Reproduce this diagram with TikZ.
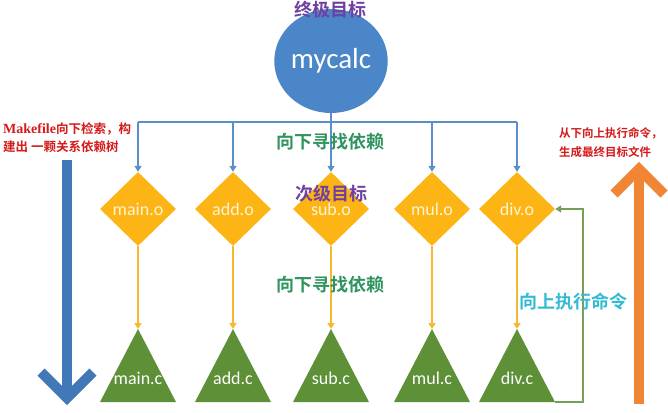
\documentclass[tikz,border=0pt]{standalone}
\usepackage{fontspec}
\setmainfont{Carlito}
\newfontfamily\cjk{Noto Sans CJK SC}[BoldFont={Noto Sans CJK SC Bold}]
\newfontfamily\serifb{Liberation Serif}
\usetikzlibrary{shapes.geometric,arrows.meta}
\definecolor{cblue}{HTML}{4A86C8}
\definecolor{lblue}{HTML}{5B8FCC}
\definecolor{cyellow}{HTML}{FDB515}
\definecolor{lyellow}{HTML}{F5BA30}
\definecolor{cgreen}{HTML}{5E9038}
\definecolor{fgreen}{HTML}{76A05A}
\definecolor{cpurple}{HTML}{7040A0}
\definecolor{tgreen}{HTML}{2F9460}
\definecolor{ccyan}{HTML}{33BBD5}
\definecolor{cred}{HTML}{D41A1A}
\definecolor{corange}{HTML}{F08533}
\definecolor{bigblue}{HTML}{4178B8}
\definecolor{dtext}{HTML}{FFF3D6}
\tikzset{
  bluearrow/.style={draw=lblue, line width=1.6pt, -{Triangle[width=7pt,length=6pt]}},
  bline/.style={draw=lblue, line width=1.6pt},
  yarrow/.style={draw=lyellow, line width=1.6pt, -{Triangle[width=7pt,length=6pt]}},
  garrow/.style={draw=fgreen, line width=1.6pt, -{Triangle[width=7pt,length=6pt]}},
  diam/.style={diamond, fill=cyellow, minimum width=76pt, minimum height=74pt, inner sep=0pt,
    text=dtext, font=\fontsize{18}{18}\selectfont},
  tri/.style={fill=cgreen},
  ctext/.style={text=white, font=\fontsize{18}{18}\selectfont, inner sep=0pt},
  zhlabel/.style={font=\cjk\bfseries\fontsize{18}{18}\selectfont, inner sep=0pt},
  redtext/.style={text=cred, font=\cjk\bfseries\fontsize{12.5}{12.5}\selectfont, inner sep=0pt, anchor=west},
  redtextr/.style={redtext, font=\cjk\bfseries\fontsize{11.5}{11.5}\selectfont},
  bigarrow/.style={line width=10pt},
}
\begin{document}
\begin{tikzpicture}[x=1pt,y=-1pt]
\useasboundingbox (0,0) rectangle (668,412);
% top target
\node[ellipse, fill=cblue, minimum width=112pt, minimum height=104pt, inner sep=0pt,
  text=white, font=\fontsize{29}{29}\selectfont] (top) at (331,61) {mycalc};
\node[zhlabel, text=cpurple] (toplab) at (330,10) {终极目标};
% bus
\coordinate (bus) at (331,122);
\coordinate (b1) at (138,122);
\coordinate (b5) at (517,122);
\draw[bline] (top.south) -- (bus);
\draw[bline] (b1) -- (b5);
% diamonds
\foreach \n/\x/\t in {mo/138/main.o, ao/233/add.o, so/331/sub.o, uo/432/mul.o, dvo/517/div.o}{
  \node[diam] (\n) at (\x,209) {\t};
  \coordinate (bus\n) at (\x,122);
  \draw[bluearrow] (bus\n) -- (\n.north);
}
% triangles
\foreach \n/\x/\t in {mc/138/main.c, ac/233/add.c, sc/331/sub.c, uc/432/mul.c, dvc/517/div.c}{
  \coordinate (\n apex) at (\x,329);
  \coordinate (\n L) at (\x-38,402);
  \coordinate (\n R) at (\x+38,402);
  \fill[tri] (\n apex) -- (\n R) -- (\n L) -- cycle;
  \node[ctext] (\n) at (\x,378) {\t};
}
\draw[yarrow] (mo.south) -- (mcapex);
\draw[yarrow] (ao.south) -- (acapex);
\draw[yarrow] (so.south) -- (scapex);
\draw[yarrow] (uo.south) -- (ucapex);
\draw[yarrow] (dvo.south) -- (dvcapex);
% labels
\node[zhlabel, text=cpurple] (sublab) at (331,194) {次级目标};
\node[zhlabel, text=tgreen] (down1) at (330,142) {向下寻找依赖};
\node[zhlabel, text=tgreen] (down2) at (330,285) {向下寻找依赖};
% feedback
\coordinate (fb1) at (583,402);
\coordinate (fb2) at (583,209);
\draw[garrow] (dvcR) -- (fb1) -- (fb2) -- (dvo.east);
\node[zhlabel, text=ccyan] (up) at (573,302) {向上执行命令};
% big arrows
\coordinate (la1) at (67,160);
\coordinate (la2) at (67,398);
\draw[bigarrow, draw=bigblue] (la1) -- (la2);
\draw[bigarrow, draw=bigblue, miter limit=10] (41,372) -- (la2) -- (93,372);
\coordinate (ra1) at (639,404);
\coordinate (ra2) at (639,169);
\draw[bigarrow, draw=corange] (ra1) -- (ra2);
\draw[bigarrow, draw=corange, miter limit=10] (614,194) -- (ra2) -- (664,194);
% red notes
\node[redtext] (l1) at (3,129) {{\serifb\fontsize{14}{14}\selectfont Makefile}向下检索，构};
\node[redtext] (l2) at (3,147) {建出 一颗关系依赖树};
\node[redtextr] (r1) at (559,133) {从下向上执行命令，};
\node[redtextr] (r2) at (559,152) {生成最终目标文件};
\end{tikzpicture}
\end{document}
